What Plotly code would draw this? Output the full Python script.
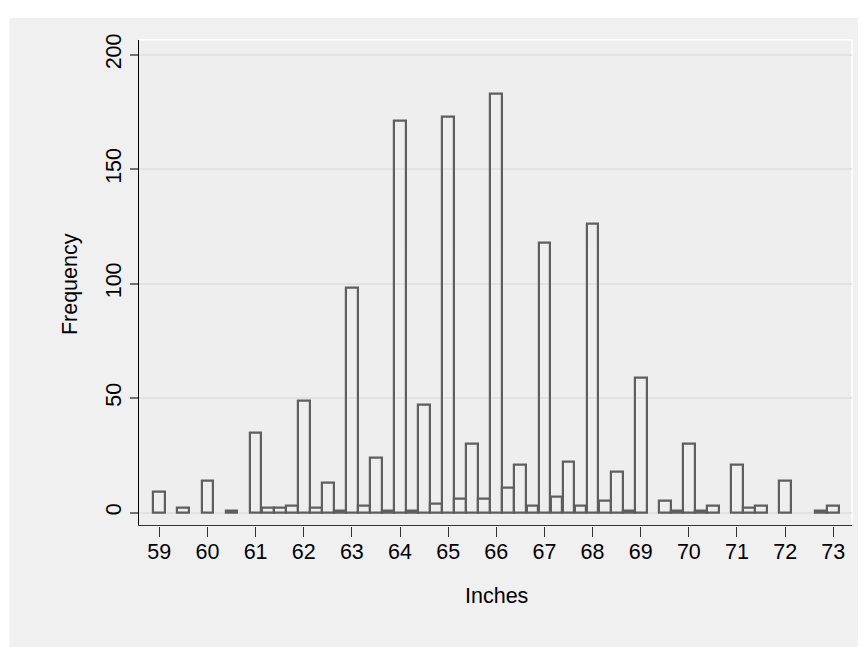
import plotly.graph_objects as go

W, H = 900, 680
OFF = 8  # page body margin: reference page pixels -> figure pixels

# Bin centres (inches) and frequencies (zero-count bins omitted)
inches = [59, 59.5, 60, 60.5,
          61, 61.25, 61.5, 61.75, 62, 62.25, 62.5, 62.75,
          63, 63.25, 63.5, 63.75, 64, 64.25, 64.5, 64.75,
          65, 65.25, 65.5, 65.75, 66, 66.25, 66.5, 66.75,
          67, 67.25, 67.5, 67.75, 68, 68.25, 68.5, 68.75,
          69, 69.5, 69.75, 70, 70.25, 70.5,
          71, 71.25, 71.5, 72, 72.75, 73]
frequency = [9, 2, 14, 1,
             35, 2, 2, 3, 49, 2, 13, 1,
             98, 3, 24, 1, 171, 1, 47, 4,
             173, 6, 30, 6, 183, 11, 21, 3,
             118, 7, 22, 3, 126, 5, 18, 1,
             59, 5, 1, 30, 1, 3,
             21, 2, 3, 14, 1, 3]

x_ticks = list(range(59, 74))
y_ticks = [0, 50, 100, 150, 200]

FONT = "Arial, Liberation Sans, sans-serif"
FS = 21.5

def px(x):
    return (x - OFF) / W

def py(y):
    return 1 - (y - OFF) / H

# plot area in reference page pixels
L, R, T, B = 139, 852, 34, 524

fig = go.Figure()
fig.add_trace(go.Bar(
    x=inches, y=frequency, width=0.245,
    marker=dict(color="rgba(0,0,0,0)", line=dict(color="#5E5E5E", width=2.2)),
    showlegend=False,
))

fig.update_layout(
    width=W, height=H,
    margin=dict(l=0, r=0, t=0, b=0),
    paper_bgcolor="#F0F0F0",
    plot_bgcolor="#EEEEEE",
    font=dict(family=FONT, size=FS, color="#000000"),
    bargap=0,
    xaxis=dict(
        domain=[px(L), px(R)],
        range=[58.578, 73.389],
        tickvals=x_ticks,
        ticktext=[str(v) for v in x_ticks],
        ticks="outside", ticklen=10, tickwidth=1, tickcolor="#333333",
        showgrid=False, zeroline=False,
        showline=True, linecolor="#333333", linewidth=1.2,
        tickfont=dict(family=FONT, size=FS, color="#000000"),
        ticklabelstandoff=-3,
    ),
    yaxis=dict(
        domain=[py(B), py(T)],
        range=[-5.63, 206.5],
        tickvals=y_ticks,
        ticktext=[str(v) for v in y_ticks],
        tickangle=-90,
        ticks="outside", ticklen=8, tickwidth=1.5, tickcolor="#707070",
        showgrid=True, gridcolor="#E2E2E2", gridwidth=1.5,
        zeroline=False,
        showline=True, linecolor="#000000", linewidth=1.2,
        tickfont=dict(family=FONT, size=FS, color="#000000"),
        ticklabelstandoff=0,
    ),
    shapes=[
        # white strips outside the Stata graph region
        dict(type="rect", xref="paper", yref="paper", x0=-0.01, x1=px(9.5), y0=0, y1=1.01,
             fillcolor="#FFFFFF", line=dict(width=0), layer="below"),
        dict(type="rect", xref="paper", yref="paper", x0=-0.01, x1=1.01, y0=py(12), y1=1.01,
             fillcolor="#FFFFFF", line=dict(width=0), layer="below"),
        # white border on top and right of plot region
        dict(type="line", xref="paper", yref="paper", x0=px(L), x1=px(R), y0=py(T), y1=py(T),
             line=dict(color="#FFFFFF", width=1.5), layer="below"),
        dict(type="line", xref="paper", yref="paper", x0=px(R), x1=px(R), y0=py(B), y1=py(T),
             line=dict(color="#FFFFFF", width=1.5), layer="below"),
    ],
    annotations=[
        dict(text="Frequency", xref="paper", yref="paper", x=px(70), y=py(280.5),
             textangle=-90, showarrow=False, xanchor="center", yanchor="middle",
             font=dict(family=FONT, size=FS, color="#000000")),
        dict(text="Inches", xref="paper", yref="paper", x=px(496.7), y=py(595.5),
             showarrow=False, xanchor="center", yanchor="middle",
             font=dict(family=FONT, size=FS, color="#000000")),
    ],
)

fig.write_html("out.html")
